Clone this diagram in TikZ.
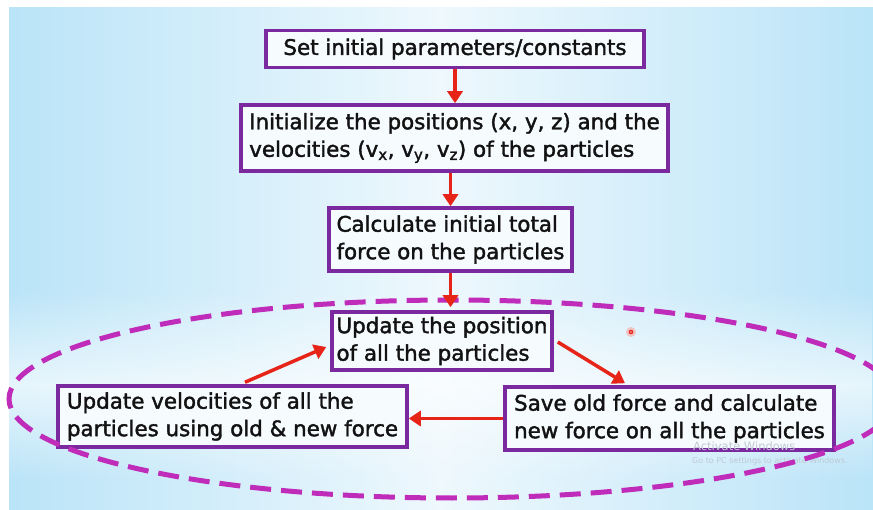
\documentclass[tikz,border=0pt]{standalone}
\usepackage{fontspec}
\setmainfont{DejaVu Sans}
\newfontfamily\boxfont{DejaVu Sans}[FakeBold=1.8]
\usetikzlibrary{arrows.meta,fadings,calc}
\definecolor{boxpurple}{RGB}{122,42,158}
\definecolor{dashmag}{RGB}{192,44,186}
\definecolor{arrred}{RGB}{230,36,24}
\definecolor{bgblue}{RGB}{186,228,248}
\definecolor{bglight}{RGB}{238,248,253}
\definecolor{boxfill}{RGB}{246,251,254}
\definecolor{txt}{RGB}{18,18,18}
\definecolor{wmark}{RGB}{190,202,212}
\tikzfading[name=midband, top color=transparent!100, bottom color=transparent!100, middle color=transparent!35]
\begin{document}
\begin{tikzpicture}[x=1pt,y=-1pt,
  stepbox/.style={draw=boxpurple, line width=3.5pt, fill=boxfill, inner sep=0pt, align=left, text=txt, font=\boxfont\fontsize{21.4}{27.5}\selectfont},
  flow/.style={draw=arrred, line width=3.5pt, -{Triangle[width=15pt,length=12pt]}},
  loopring/.style={draw=dashmag, line width=5pt, dash pattern=on 21pt off 10pt},
  wm/.style={text=wmark, inner sep=0pt, anchor=west}
]
\useasboundingbox (0,0) rectangle (873,510);
\fill[white] (0,0) rectangle (873,510);
\shade[left color=bgblue, right color=bgblue, middle color=bglight] (9,8) rectangle (873,510);
\fill[white, path fading=midband] (9,290) rectangle (873,480);

% boxes
\node[stepbox, minimum width=378pt, minimum height=37pt] (b1) at (455,49) {Set initial parameters/constants};
\node[stepbox, minimum width=427pt, minimum height=66pt] (b2) at (454.5,138) {Initialize the positions (x, y, z) and the\\velocities (v\textsubscript{x}, v\textsubscript{y}, v\textsubscript{z}) of the particles};
\node[stepbox, minimum width=243pt, minimum height=63pt] (b3) at (450.5,239.5) {Calculate initial total\\force on the particles};
\node[stepbox, minimum width=220pt, minimum height=58pt] (b4) at (442,341) {Update the position\\of all the particles};
\node[stepbox, minimum width=349pt, minimum height=61pt] (b5) at (232.5,416.5) {Update velocities of all the\\particles using old \& new force};
\node[stepbox, minimum width=329pt, minimum height=63pt] (b6) at (669.5,418.5) {Save old force and calculate\\new force on all the particles};

% watermark
\node[wm, font=\fontsize{11.5}{12}\selectfont] (wm1) at (693,446) {Activate Windows};
\node[wm, font=\fontsize{8}{9}\selectfont] (wm2) at (692,461) {Go to PC settings to activate Windows.};

% dashed loop
\draw[loopring] (452,399) ellipse [x radius=443, y radius=99];

% arrows
\draw[flow] (b1.south) -- (b1.south |- b2.north);
\draw[flow] (b3.north |- b2.south) -- (b3.north);
\draw[flow, shorten >=3pt] (b3.south) -- (b3.south |- b4.north);
\draw[flow] ([xshift=4pt,yshift=-1pt]b4.east) -- ([xshift=-44.5pt,yshift=2pt]b6.north);
\draw[flow] (b6.west) -- (b6.west -| b5.east);
\draw[flow] ([xshift=12.5pt,yshift=2pt]b5.north) -- ([xshift=-4pt,yshift=-6pt]b4.west);

% cursor dot
\fill[arrred!35, opacity=0.7] (631,332) circle (5pt);
\fill[arrred] (631,332) circle (2.3pt);
\fill[arrred!30] (631,332) circle (0.9pt);
\end{tikzpicture}
\end{document}
